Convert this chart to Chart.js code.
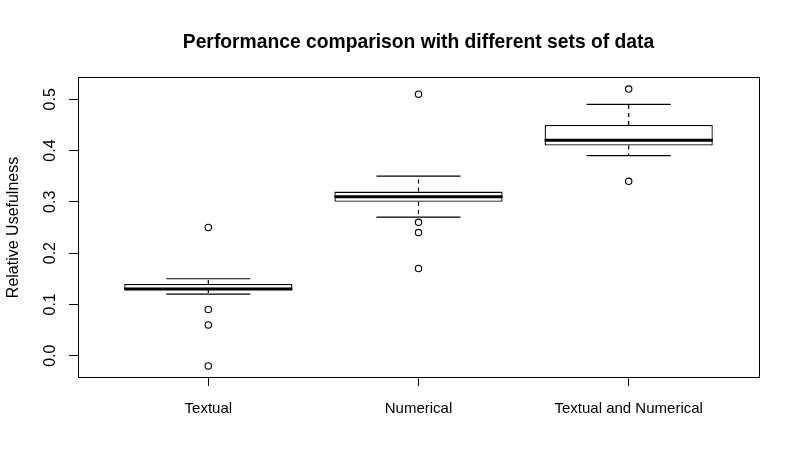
<!DOCTYPE html>
<html>
<head>
<meta charset="utf-8">
<script src="https://cdn.jsdelivr.net/npm/chart.js@4"></script>
<style>
html,body{margin:0;padding:0;background:#fff;}
canvas{display:block;}
</style>
</head>
<body>
<canvas id="c" width="800" height="476"></canvas>
<script>
const categories = ['Textual', 'Numerical', 'Textual and Numerical'];
const lowerWhisker = [0.12, 0.27, 0.39];
const q1 = [0.13, 0.30, 0.41];
const median = [0.13, 0.31, 0.42];
const q3 = [0.14, 0.32, 0.45];
const upperWhisker = [0.15, 0.35, 0.49];
const outliers = [[0.25, 0.09, 0.06, -0.02], [0.51, 0.26, 0.24, 0.17], [0.52, 0.34]];
const yTicks = [0.0, 0.1, 0.2, 0.3, 0.4, 0.5];

const BOX_HALF = 0.4, CAP_HALF = 0.2;
const pos = categories.map((c, i) => i + 1);

const allVals = [].concat(lowerWhisker, upperWhisker, ...outliers);
const yMinData = Math.min(...allVals), yMaxData = Math.max(...allVals);
const yPad = (yMaxData - yMinData) * 0.04;
const xPad = (categories.length) * 0.04;

const boxData = pos.map((x, i) => ({x: x, y: [q1[i], q3[i]]}));
const whiskerData = [];
const capData = [];
const medianData = [];
const outlierData = [];
pos.forEach((x, i) => {
  whiskerData.push({x: x, y: q3[i]}, {x: x, y: upperWhisker[i]}, {x: x, y: null});
  whiskerData.push({x: x, y: q1[i]}, {x: x, y: lowerWhisker[i]}, {x: x, y: null});
  capData.push({x: x - CAP_HALF, y: upperWhisker[i]}, {x: x + CAP_HALF, y: upperWhisker[i]}, {x: x, y: null});
  capData.push({x: x - CAP_HALF, y: lowerWhisker[i]}, {x: x + CAP_HALF, y: lowerWhisker[i]}, {x: x, y: null});
  medianData.push({x: x - BOX_HALF, y: median[i]}, {x: x + BOX_HALF, y: median[i]}, {x: x, y: null});
  outliers[i].forEach(v => outlierData.push({x: x, y: v}));
});

Chart.defaults.font.family = '"Liberation Sans", Arial, sans-serif';
Chart.defaults.color = '#000';

new Chart(document.getElementById('c'), {
  type: 'bar',
  data: {
    datasets: [
      {
        type: 'bar', data: boxData, order: 4,
        backgroundColor: '#fff', borderColor: '#000', borderWidth: 1.3, borderSkipped: false,
        barPercentage: 2 * BOX_HALF, categoryPercentage: 1, grouped: false
      },
      {
        type: 'line', data: whiskerData, order: 3, borderColor: '#000', borderWidth: 1.2,
        borderDash: [4, 4], pointRadius: 0, spanGaps: false, fill: false, borderCapStyle: 'butt'
      },
      {
        type: 'line', data: capData, order: 2, borderColor: '#000', borderWidth: 1.2,
        pointRadius: 0, spanGaps: false, fill: false, borderCapStyle: 'butt'
      },
      {
        type: 'line', data: medianData, order: 1, borderColor: '#000', borderWidth: 3,
        pointRadius: 0, spanGaps: false, fill: false, borderCapStyle: 'butt'
      },
      {
        type: 'line', data: outlierData, order: 0, showLine: false,
        pointStyle: 'circle', pointRadius: 3.2, pointBorderWidth: 1.1,
        pointBorderColor: '#000', pointBackgroundColor: 'rgba(255,255,255,0)'
      }
    ]
  },
  options: {
    responsive: false,
    animation: false,
    layout: {padding: {left: 0, right: 41, top: 0, bottom: 0}},
    plugins: {
      legend: {display: false},
      tooltip: {enabled: false},
      title: {
        display: true, fullSize: false,
        text: 'Performance comparison with different sets of data',
        font: {size: 19.3, weight: 'bold'}, color: '#000',
        padding: {top: 31, bottom: 23.8}
      }
    },
    scales: {
      x: {
        type: 'linear', position: 'bottom', offset: false,
        min: 1 - 0.5 - xPad, max: categories.length + 0.5 + xPad,
        afterBuildTicks: s => { s.ticks = pos.map(v => ({value: v})); },
        afterFit: s => { s.height = 99; },
        ticks: {
          callback: (v, idx) => categories[idx],
          font: {size: 15}, color: '#000', padding: 14, maxRotation: 0, autoSkip: false
        },
        grid: {display: true, offset: false, drawOnChartArea: false, drawTicks: true, tickLength: 9, color: '#000', lineWidth: 1},
        border: {display: true, color: '#000', width: 1}
      },
      x2: {
        type: 'linear', position: 'top', min: 0, max: 1,
        afterFit: s => { s.height = 0; },
        ticks: {display: false},
        grid: {display: false, drawTicks: false},
        border: {display: true, color: '#000', width: 1}
      },
      y: {
        type: 'linear', position: 'left',
        min: yMinData - yPad, max: yMaxData + yPad,
        afterBuildTicks: s => { s.ticks = yTicks.map(v => ({value: v})); },
        afterFit: s => { s.width = 78; },
        ticks: {
          callback: v => v.toFixed(1),
          font: {size: 16}, color: '#000', padding: 7,
          minRotation: 90, maxRotation: 90, crossAlign: 'center'
        },
        grid: {display: true, drawOnChartArea: false, drawTicks: true, tickLength: 9, color: '#000', lineWidth: 1},
        border: {display: true, color: '#000', width: 1},
        title: {display: true, text: 'Relative Usefulness', font: {size: 16}, color: '#000', padding: {top: 3.7, bottom: 0}}
      },
      y2: {
        type: 'linear', position: 'right', min: 0, max: 1,
        afterFit: s => { s.width = 0; },
        ticks: {display: false},
        grid: {display: false, drawTicks: false},
        border: {display: true, color: '#000', width: 1}
      }
    }
  }
});
</script>
</body>
</html>
